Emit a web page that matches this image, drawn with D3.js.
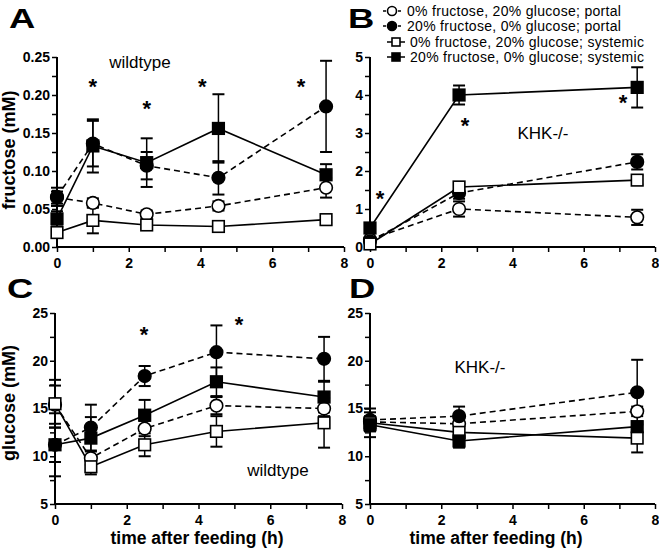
<!DOCTYPE html>
<html><head><meta charset="utf-8">
<script src="https://cdn.jsdelivr.net/npm/d3@7"></script>
<style>body{margin:0;background:#fff}svg{display:block}text{font-family:"Liberation Sans",Arial,sans-serif}</style>
</head><body>
<svg id="c" width="659" height="554"></svg>
<script>
// ---------- DATA ----------
const seriesNames = ["0% fructose, 20% glucose; portal","20% fructose, 0% glucose; portal","0% fructose, 20% glucose; systemic","20% fructose, 0% glucose; systemic"];
const timesWT = [0, 1, 2.5, 4.5, 7.5];
const timesKO = [0, 2.5, 7.5];

// Panel A: fructose, wildtype
const A_openCircle   = [0.065, 0.058, 0.043, 0.054, 0.078];
const A_openCircleE  = [0.008, 0.006, 0.005, 0.006, 0.013];
const A_filledCircle = [0.066, 0.136, 0.107, 0.091, 0.185];
const A_filledCircleE= [0.012, 0.030, 0.018, 0.022, 0.060];
const A_openSquare   = [0.019, 0.035, 0.029, 0.027, 0.036];
const A_openSquareE  = [0.006, 0.017, 0.004, 0.003, 0.004];
const A_filledSquare = [0.037, 0.133, 0.111, 0.156, 0.095];
const A_filledSquareE= [0.010, 0.035, 0.032, 0.045, 0.014];

// Panel B: fructose, KHK-/-
const B_openCircle   = [0.20, 1.00, 0.78];
const B_openCircleE  = [0.05, 0.20, 0.20];
const B_filledCircle = [0.15, 1.42, 2.24];
const B_filledCircleE= [0.05, 0.15, 0.20];
const B_openSquare   = [0.08, 1.58, 1.76];
const B_openSquareE  = [0.05, 0.12, 0.12];
const B_filledSquare = [0.50, 4.00, 4.20];
const B_filledSquareE= [0.05, 0.25, 0.53];

// Panel C: glucose, wildtype
const C_openCircle   = [15.4, 9.8, 12.9, 15.3, 15.0];
const C_openCircleE  = [2.0, 0.7, 0.8, 0.9, 0.8];
const C_filledCircle = [11.2, 13.0, 18.4, 20.9, 20.2];
const C_filledCircleE= [1.8, 2.4, 1.05, 2.8, 2.3];
const C_openSquare   = [15.5, 8.9, 11.2, 12.6, 13.5];
const C_openSquareE  = [2.5, 0.8, 1.2, 1.6, 2.6];
const C_filledSquare = [11.2, 11.9, 14.3, 17.8, 16.2];
const C_filledSquareE= [3.3, 2.2, 1.6, 1.5, 1.6];

// Panel D: glucose, KHK-/-
const D_openCircle   = [13.6, 13.4, 14.7];
const D_openCircleE  = [0.6, 0.5, 0.5];
const D_filledCircle = [13.8, 14.2, 16.7];
const D_filledCircleE= [1.2, 1.0, 3.4];
const D_openSquare   = [13.5, 12.5, 11.9];
const D_openSquareE  = [0.5, 0.5, 1.5];
const D_filledSquare = [13.3, 11.6, 13.1];
const D_filledSquareE= [1.3, 0.7, 0.5];

// significance asterisks [time, value]
const A_stars = [[1.0, 0.216], [2.5, 0.187], [4.05, 0.216], [6.8, 0.216]];
const B_stars = [[0.28, 1.37], [2.67, 3.3], [7.1, 3.9]];
const C_stars = [[2.48, 23.1], [5.13, 24.2]];

const xTicks = [0, 2, 4, 6, 8];
const A_yTicks = [0.00, 0.05, 0.10, 0.15, 0.20, 0.25];
const B_yTicks = [0, 1, 2, 3, 4, 5];
const CD_yTicks = [5, 10, 15, 20, 25];

// ---------- DRAW ----------
const svg = d3.select("#c");
const styles = [
  {shape:"circle", fill:false, dash:"6,4"},
  {shape:"circle", fill:true,  dash:"6,4"},
  {shape:"square", fill:false, dash:null},
  {shape:"square", fill:true,  dash:null}
];

function panel(opt) {
  const g = svg.append("g");
  const x = d3.scaleLinear().domain([0, 8]).range([opt.left, opt.right]);
  const y = d3.scaleLinear().domain(opt.yDomain).range([opt.bottom, opt.top]);

  const xMinor = d3.range(0, 8.01, 1);
  const yMinor = d3.range(opt.yDomain[0], opt.yDomain[1] + 1e-9, opt.yMinorStep);
  const xa = g.append("g").attr("transform", `translate(0,${opt.bottom})`)
    .call(d3.axisBottom(x).tickValues(xMinor).tickSize(5).tickFormat(d => xTicks.includes(d) ? d : ""));
  const ya = g.append("g").attr("transform", `translate(${opt.left},0)`)
    .call(d3.axisLeft(y).tickValues(yMinor).tickSize(5)
      .tickFormat(d => opt.yTicks.some(t => Math.abs(t - d) < 1e-9) ? opt.fmt(d) : ""));
  [xa, ya].forEach(a => {
    a.select(".domain").attr("stroke", "#000").attr("stroke-width", 2).attr("d",
      a === xa ? `M${opt.left},0H${opt.right}` : `M0,${opt.bottom}V${opt.top}`);
    a.selectAll(".tick line").attr("stroke", "#000").attr("stroke-width", 1.5);
    a.selectAll(".tick text").attr("font-size", 14).attr("font-weight", "bold").attr("fill", "#000")
      .attr("font-family", "'Liberation Sans', Arial, sans-serif");
  });
  xa.selectAll(".tick text").attr("dy", "0.95em");
  ya.selectAll(".tick text").attr("x", -7);

  const times = opt.times;
  opt.series.forEach((s, i) => {
    const st = styles[i];
    const pts = times.map((t, j) => ({t, v: s.v[j], e: s.e[j]}));
    g.append("path").datum(pts)
      .attr("d", d3.line().x(d => x(d.t)).y(d => y(d.v)))
      .attr("fill", "none").attr("stroke", "#000").attr("stroke-width", 1.6)
      .attr("stroke-dasharray", st.dash);
  });
  opt.series.forEach((s, i) => {
    const pts = times.map((t, j) => ({t, v: s.v[j], e: s.e[j]}));
    const eb = g.append("g");
    pts.forEach(d => {
      const cx = x(d.t), y1 = y(d.v + d.e), y2 = y(d.v - d.e);
      eb.append("line").attr("x1", cx).attr("x2", cx).attr("y1", y1).attr("y2", y2)
        .attr("stroke", "#000").attr("stroke-width", 1.5);
      [y1, y2].forEach(yy => eb.append("line").attr("x1", cx - 6).attr("x2", cx + 6)
        .attr("y1", yy).attr("y2", yy).attr("stroke", "#000").attr("stroke-width", 2));
    });
  });
  opt.series.forEach((s, i) => {
    const st = styles[i];
    times.forEach((t, j) => drawMarker(g, x(t), y(s.v[j]), st, 6.3));
  });

  (opt.stars || []).forEach(s => g.append("text").attr("x", x(s[0])).attr("y", y(s[1]))
    .attr("text-anchor", "middle").attr("font-size", 22).attr("font-weight", "bold")
    .attr("dy", "0.5em").text("*"));

  g.append("text").attr("x", opt.noteX).attr("y", opt.noteY).attr("text-anchor", "middle")
    .attr("font-size", 17).attr("dy", "0.35em").text(opt.note);
  g.append("text").attr("transform", `translate(${opt.letterX},${opt.letterY}) scale(1.3,1)`)
    .attr("font-size", 28).attr("font-weight", "bold").text(opt.letter);
  if (opt.yTitle) g.append("text").attr("transform", `translate(${opt.yTitleX},${opt.yTitleY}) rotate(-90)`)
    .attr("text-anchor", "middle").attr("font-size", 18).attr("font-weight", "bold").text(opt.yTitle);
  if (opt.xTitle) g.append("text").attr("x", opt.xTitleX).attr("y", opt.xTitleY)
    .attr("text-anchor", "middle").attr("font-size", 17.5).attr("font-weight", "bold").text(opt.xTitle);
}

function drawMarker(g, cx, cy, st, r) {
  if (st.shape === "circle") {
    g.append("circle").attr("cx", cx).attr("cy", cy).attr("r", r)
      .attr("fill", st.fill ? "#000" : "#fff").attr("stroke", "#000").attr("stroke-width", 1.6);
  } else {
    const h = r - 0.5;
    g.append("rect").attr("x", cx - h).attr("y", cy - h).attr("width", 2 * h).attr("height", 2 * h)
      .attr("fill", st.fill ? "#000" : "#fff").attr("stroke", "#000").attr("stroke-width", 1.6);
  }
}

const fmt2 = d3.format(".2f");
panel({left:57, right:344, top:57, bottom:247, yDomain:[0, 0.25], yTicks:A_yTicks, yMinorStep:0.025, fmt:fmt2,
  times:timesWT, series:[{v:A_openCircle,e:A_openCircleE},{v:A_filledCircle,e:A_filledCircleE},{v:A_openSquare,e:A_openSquareE},{v:A_filledSquare,e:A_filledSquareE}],
  stars:A_stars, note:"wildtype", noteX:140, noteY:62, letter:"A", letterX:9, letterY:28,
  yTitle:"fructose (mM)", yTitleX:15, yTitleY:150});
panel({left:370, right:655, top:57, bottom:247, yDomain:[0, 5], yTicks:B_yTicks, yMinorStep:0.5, fmt:d3.format("d"),
  times:timesKO, series:[{v:B_openCircle,e:B_openCircleE},{v:B_filledCircle,e:B_filledCircleE},{v:B_openSquare,e:B_openSquareE},{v:B_filledSquare,e:B_filledSquareE}],
  stars:B_stars, note:"KHK-/-", noteX:543, noteY:133, letter:"B", letterX:348, letterY:28});
panel({left:55, right:342, top:313, bottom:504, yDomain:[5, 25], yTicks:CD_yTicks, yMinorStep:2.5, fmt:d3.format("d"),
  times:timesWT, series:[{v:C_openCircle,e:C_openCircleE},{v:C_filledCircle,e:C_filledCircleE},{v:C_openSquare,e:C_openSquareE},{v:C_filledSquare,e:C_filledSquareE}],
  stars:C_stars, note:"wildtype", noteX:278, noteY:470, letter:"C", letterX:7, letterY:298,
  yTitle:"glucose (mM)", yTitleX:15, yTitleY:403, xTitle:"time after feeding (h)", xTitleX:197, xTitleY:544});
panel({left:370, right:655, top:313, bottom:504, yDomain:[5, 25], yTicks:CD_yTicks, yMinorStep:2.5, fmt:d3.format("d"),
  times:timesKO, series:[{v:D_openCircle,e:D_openCircleE},{v:D_filledCircle,e:D_filledCircleE},{v:D_openSquare,e:D_openSquareE},{v:D_filledSquare,e:D_filledSquareE}],
  stars:[], note:"KHK-/-", noteX:480, noteY:367, letter:"D", letterX:349, letterY:298,
  xTitle:"time after feeding (h)", xTitleX:496, xTitleY:544});

// legend
const leg = svg.append("g");
const legY = [11, 26, 42, 57];
const legMX = [392, 392, 396, 396];
const legTX = [407, 407, 410, 410];
seriesNames.forEach((name, i) => {
  const st = styles[i];
  leg.append("line").attr("x1", legMX[i] - 9).attr("x2", legMX[i] + 9).attr("y1", legY[i]).attr("y2", legY[i])
    .attr("stroke", "#000").attr("stroke-width", 1.5).attr("stroke-dasharray", st.dash ? "3,2" : null);
  drawMarker(leg, legMX[i], legY[i], st, 4.5);
  leg.append("text").attr("x", legTX[i]).attr("y", legY[i]).attr("dy", "0.35em").attr("font-size", 14)
    .attr("letter-spacing", 0.3).text(name);
});
</script>
</body></html>
